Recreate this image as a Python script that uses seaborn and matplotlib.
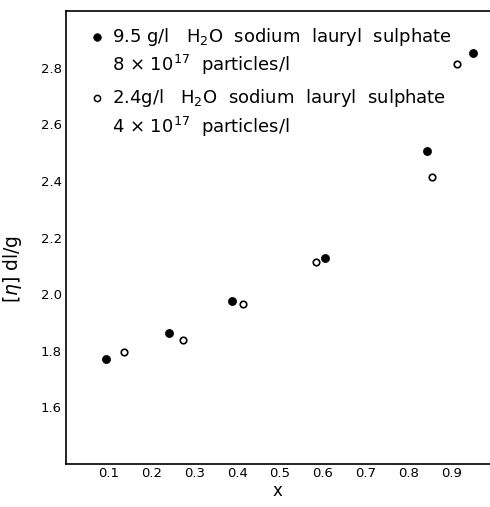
import matplotlib
matplotlib.use("Agg")
import matplotlib.pyplot as plt
import seaborn as sns
import pandas as pd

# Intrinsic viscosity against volume fraction x, two surfactant concentrations
x_high = [0.093, 0.240, 0.388, 0.605, 0.843, 0.952]
eta_high = [1.771, 1.862, 1.976, 2.127, 2.507, 2.850]

x_low = [0.135, 0.274, 0.413, 0.584, 0.855, 0.913]
eta_low = [1.797, 1.838, 1.965, 2.112, 2.415, 2.812]

x_ticks = [0.1, 0.2, 0.3, 0.4, 0.5, 0.6, 0.7, 0.8, 0.9]
y_ticks = [1.6, 1.8, 2.0, 2.2, 2.4, 2.6, 2.8]

label_high = ["9.5 g/l   H$_2$O  sodium  lauryl  sulphate", "8 \u00d7 10$^{17}$  particles/l"]
label_low = ["2.4g/l   H$_2$O  sodium  lauryl  sulphate", "4 \u00d7 10$^{17}$  particles/l"]

df_high = pd.DataFrame({"x": x_high, "eta": eta_high})
df_low = pd.DataFrame({"x": x_low, "eta": eta_low})

sns.set_style("white")
plt.rcParams["font.family"] = ["DejaVu Sans"]
plt.rcParams["mathtext.fontset"] = "dejavusans"
plt.rcParams["text.color"] = "black"
plt.rcParams["axes.labelcolor"] = "black"

fig = plt.figure(figsize=(4.9, 5.07), dpi=100)
# x runs 0..1.0; the plot area reaches a little past the right edge of the figure
ax = fig.add_axes([0.1347, 0.0848, 0.8735, 0.8935])

sns.scatterplot(data=df_high, x="x", y="eta", ax=ax, s=34, color="black",
                edgecolor="black", linewidth=0.5, zorder=3)
sns.scatterplot(data=df_low, x="x", y="eta", ax=ax, s=22, facecolor="white",
                edgecolor="black", linewidth=1.2, zorder=3)

ax.set_xlim(0, 1.0)
ax.set_ylim(1.4, 3.0)
ax.set_xticks(x_ticks)
ax.set_yticks(y_ticks)
ax.set_xticklabels([f"{t:.1f}" for t in x_ticks])
ax.set_yticklabels([f"{t:.1f}" for t in y_ticks])
ax.tick_params(direction="in", length=6, width=1.1, colors="black",
               labelsize=9.5, pad=3)
ax.tick_params(axis="x", pad=2)

for side in ("left", "bottom", "top"):
    ax.spines[side].set_visible(True)
    ax.spines[side].set_color("black")
    ax.spines[side].set_linewidth(1.2)
ax.spines["right"].set_visible(False)

ax.set_xlabel("x", fontsize=12)
ax.xaxis.set_label_coords(0.493, -0.040)
ax.set_ylabel(r"$[\eta]$ dl/g", fontsize=13.5)
ax.yaxis.set_label_coords(-0.097, 0.43)

# Key drawn inside the plot area: marker beside the first line of each entry
key_rows = [(label_high, 0.943, "black"), (label_low, 0.807, "white")]
for lines, y0, face in key_rows:
    ax.scatter([0.072], [y0], transform=ax.transAxes, s=30 if face == "black" else 20,
               facecolor=face, edgecolor="black", linewidth=1.1 if face == "white" else 0.5,
               clip_on=False, zorder=4)
    ax.text(0.107, y0, lines[0], transform=ax.transAxes, fontsize=13,
            va="center", ha="left")
    ax.text(0.107, y0 - 0.062, lines[1], transform=ax.transAxes, fontsize=13,
            va="center", ha="left")

fig.savefig("out.png", dpi=100, facecolor="white")
